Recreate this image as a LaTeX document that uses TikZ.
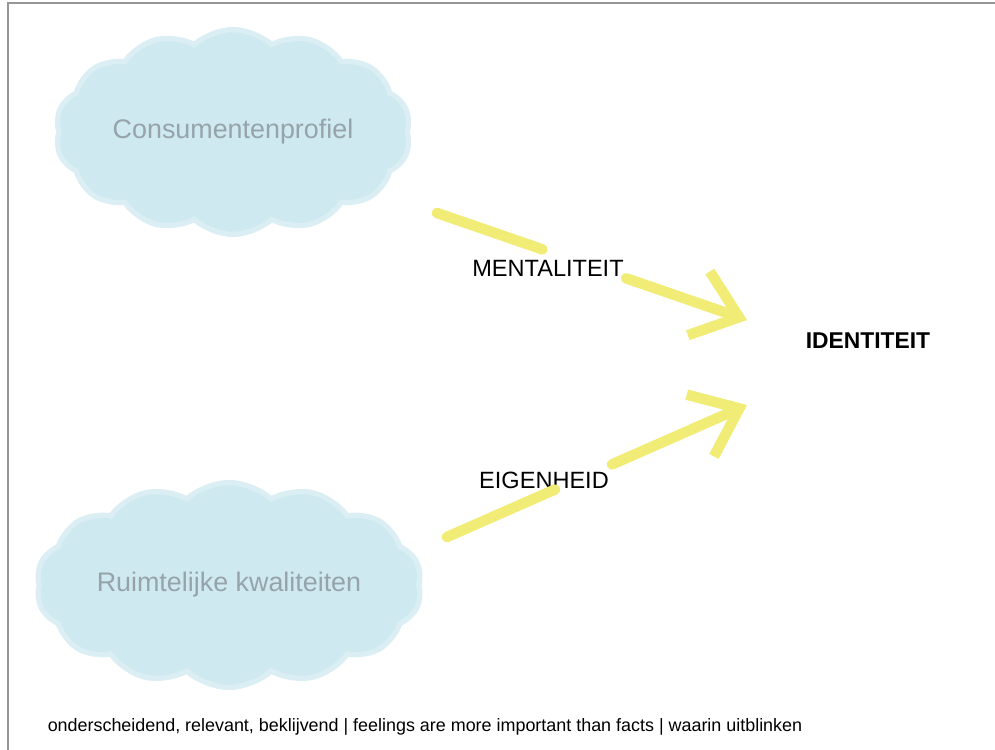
\documentclass[tikz,border=0pt]{standalone}
\usepackage{fontspec}
\setmainfont{Liberation Sans}
\usetikzlibrary{shapes.symbols, arrows.meta, calc}
\definecolor{wolkblauw}{RGB}{207,233,241}
\definecolor{wolktekst}{RGB}{150,164,170}
\definecolor{markeer}{RGB}{240,236,118}
\definecolor{rand}{RGB}{150,150,150}

\begin{document}
\begin{tikzpicture}[x=0.02cm, y=-0.02cm, >={Straight Barb[length=0.85cm, width=1.35cm]},
    wolk/.style={cloud, cloud puffs=14, cloud puff arc=85, cloud ignores aspect,
        fill=wolkblauw, draw=wolkblauw!75, line width=3pt,
        minimum width=7.1cm, minimum height=4.1cm,
        text=wolktekst, font=\fontsize{15.3}{18}\selectfont},
    pijl/.style={line width=6pt, draw=markeer, line cap=round},
    etiket/.style={font=\fontsize{13.4}{15}\selectfont}]
    % Afmetingen van het beeld vastleggen
    \useasboundingbox (0,0) rectangle (995,750);

    % 1. Kader (alleen links en boven)
    \draw[rand, line width=1.2pt] (8,750) -- (8,3) -- (995,3);

    % 2. De twee wolken
    \node[wolk] (cons) at (233,132) {Consumentenprofiel};
    \node[wolk] (ruimte) at (229,585) {Ruimtelijke kwaliteiten};

    % 3. Labels en doel
    \node[etiket] (ment) at (548,268) {MENTALITEIT};
    \node[etiket] (eigen) at (544,480) {EIGENHEID};
    \node[etiket, font=\fontsize{13}{15}\selectfont\bfseries] (ident) at (868,341) {IDENTITEIT};

    % 4. Gele pijlen (onderbroken door het label)
    \coordinate (startM) at (437,213);
    \coordinate (tipM) at (747,320);
    \coordinate (startE) at (447,537);
    \coordinate (tipE) at (747,405);
    \draw[pijl] (startM) -- ($(startM)!0.34!(tipM)$);
    \draw[pijl, ->] ($(startM)!0.61!(tipM)$) -- (tipM);
    \draw[pijl] (startE) -- ($(startE)!0.36!(tipE)$);
    \draw[pijl, ->] ($(startE)!0.55!(tipE)$) -- (tipE);

    % 5. Voetregel
    \node[font=\fontsize{10.2}{12}\selectfont] (voet) at (425,727)
        {onderscheidend, relevant, beklijvend | feelings are more important than facts | waarin uitblinken};
\end{tikzpicture}
\end{document}
